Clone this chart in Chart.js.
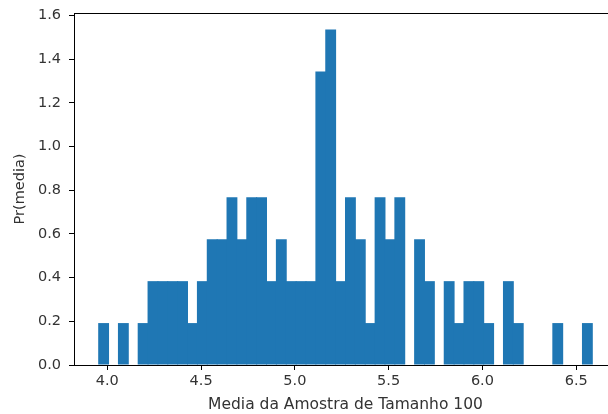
<!DOCTYPE html>
<html>
<head>
<meta charset="utf-8">
<script src="https://cdn.jsdelivr.net/npm/chart.js@4/dist/chart.umd.min.js"></script>
<style>
  html, body { margin: 0; padding: 0; background: #fff; overflow: hidden; }
  #wrap { width: 620px; height: 414px; }
</style>
</head>
<body>
<div id="wrap"><canvas id="hist"></canvas></div>
<script>
// bin centres (50 bins) and density heights
const binCenters = [
  3.9803, 4.0329, 4.0856, 4.1382, 4.1909, 4.2435, 4.2961, 4.3488, 4.4014, 4.4541,
  4.5067, 4.5593, 4.6120, 4.6646, 4.7173, 4.7699, 4.8225, 4.8752, 4.9278, 4.9805,
  5.0331, 5.0857, 5.1384, 5.1910, 5.2437, 5.2963, 5.3489, 5.4016, 5.4542, 5.5069,
  5.5595, 5.6121, 5.6648, 5.7174, 5.7701, 5.8227, 5.8753, 5.9280, 5.9806, 6.0333,
  6.0859, 6.1385, 6.1912, 6.2438, 6.2965, 6.3491, 6.4017, 6.4544, 6.5070, 6.5597
];
const density = [
  0.192, 0, 0.192, 0, 0.192, 0.384, 0.384, 0.384, 0.384, 0.192,
  0.384, 0.576, 0.576, 0.768, 0.576, 0.768, 0.768, 0.384, 0.576, 0.384,
  0.384, 0.384, 1.344, 1.536, 0.384, 0.768, 0.576, 0.192, 0.768, 0.576,
  0.768, 0, 0.576, 0.384, 0, 0.384, 0.192, 0.384, 0.384, 0.192,
  0, 0.384, 0.192, 0, 0, 0, 0.192, 0, 0, 0.192
];
const xTicks = [4.0, 4.5, 5.0, 5.5, 6.0, 6.5];
const yTicks = [0.0, 0.2, 0.4, 0.6, 0.8, 1.0, 1.2, 1.4, 1.6];

const textColor = "#333";
const font = { family: "DejaVu Sans", size: 14.5 };
const titleFont = { family: "DejaVu Sans", size: 15.5 };

// matplotlib style frame round the plot area
const frame = {
  id: "frame",
  afterDraw(chart) {
    const { ctx, chartArea: a } = chart;
    ctx.save();
    ctx.strokeStyle = "#000";
    ctx.lineWidth = 1;
    ctx.strokeRect(a.left + 0.5, a.top + 0.5, a.right - a.left - 1, a.bottom - a.top);
    ctx.restore();
  }
};

const ctx = document.getElementById("hist").getContext("2d");
new Chart(ctx, {
  type: "bar",
  data: {
    datasets: [{
      data: binCenters.map((x, i) => ({ x: x, y: density[i] })),
      backgroundColor: "#1f77b4",
      borderWidth: 0,
      barPercentage: 1.1,
      categoryPercentage: 1.0
    }]
  },
  plugins: [frame],
  options: {
    responsive: true,
    maintainAspectRatio: false,
    animation: false,
    layout: { padding: { left: 0, top: 13, right: 3, bottom: 0 } },
    plugins: { legend: { display: false }, tooltip: { enabled: false } },
    scales: {
      x: {
        type: "linear",
        offset: false,
        min: 3.8224,
        max: 6.7176,
        afterBuildTicks: (s) => { s.ticks = xTicks.map(v => ({ value: v })); },
        afterFit: (s) => { s.height = 49; s.paddingLeft = 0; s.paddingRight = 0; },
        ticks: {
          color: textColor, font: font, padding: 3, maxRotation: 0,
          callback: (v) => v.toFixed(1)
        },
        grid: { offset: false, drawOnChartArea: false, drawTicks: true, tickLength: 5, tickColor: "#000" },
        border: { color: "#000" },
        title: { display: true, text: "Media da Amostra de Tamanho 100", color: textColor, font: titleFont, padding: { top: 0, bottom: 0 } }
      },
      y: {
        min: 0,
        max: 1.612,
        afterBuildTicks: (s) => { s.ticks = yTicks.map(v => ({ value: v })); },
        afterFit: (s) => { s.width = 74; s.paddingTop = 0; s.paddingBottom = 0; },
        ticks: {
          color: textColor, font: font, padding: 8,
          callback: (v) => v.toFixed(1)
        },
        grid: { drawOnChartArea: false, drawTicks: true, tickLength: 5, tickColor: "#000" },
        border: { color: "#000" },
        title: { display: true, text: "Pr(media)", color: textColor, font: font, padding: { top: 12, bottom: 0 } }
      }
    }
  }
});
</script>
</body>
</html>
